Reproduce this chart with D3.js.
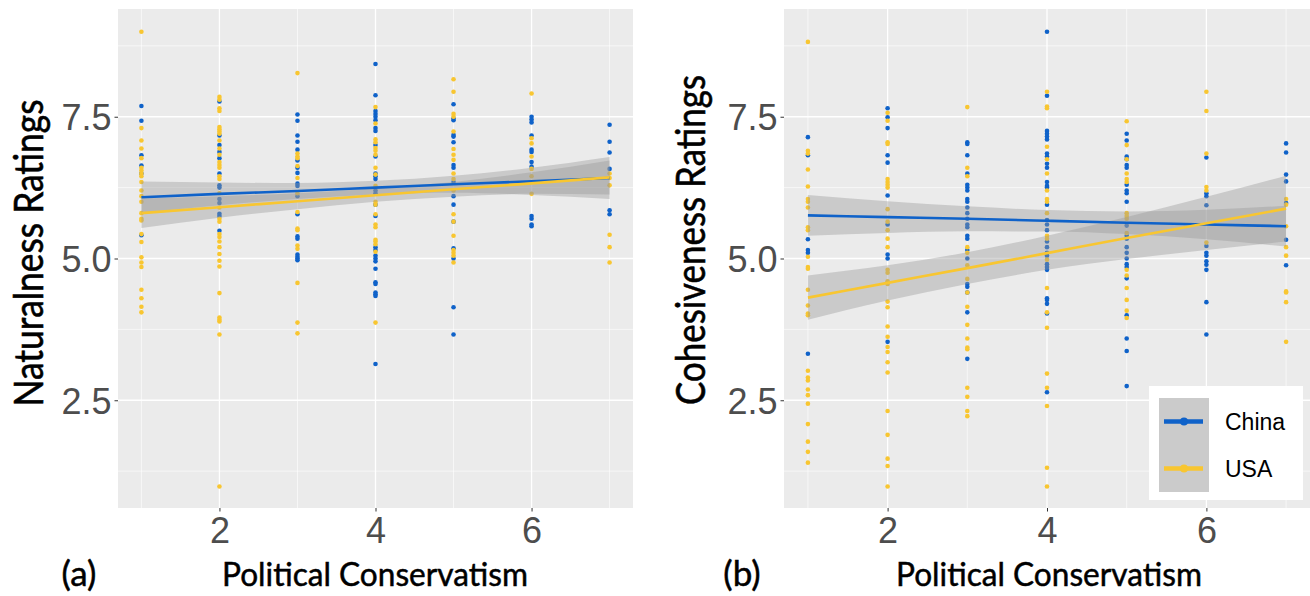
<!DOCTYPE html>
<html><head><meta charset="utf-8">
<script src="https://cdn.jsdelivr.net/npm/d3@7"></script>
<style>body{margin:0;background:#fff}svg{display:block}</style>
</head><body>
<svg id="c" width="1310" height="596"></svg>
<script>
const xCats = [1,2,3,4,5,6,7];
const xTicks = [2,4,6];
const yTicks = [2.5,5.0,7.5];
const seriesNames = ["China","USA"];

// Panel (a): Naturalness ratings, points per political conservatism level 1..7
const natChina = [
  [7.69,7.43,6.82,6.64,6.5,5.41],
  [7.77,7.17,7.0,6.88,6.77,6.5,6.29,6.25,6.05,5.98,5.79,5.75,5.49],
  [7.54,7.43,7.17,7.06,6.92,6.73,6.6,6.51,6.32,6.28,6.1,5.78,5.35,5.39,5.07,5.03,5.0,4.97],
  [8.43,7.88,7.6,7.55,7.5,7.44,7.3,7.25,7.0,6.8,6.5,6.45,6.4,6.2,6.15,5.95,5.75,5.2,5.15,5.05,5.0,4.95,4.82,4.58,4.55,4.4,4.37,4.34,3.14],
  [7.72,7.47,7.44,7.18,7.15,7.05,6.65,6.6,6.35,6.1,5.95,5.65,5.18,5.0,4.14,3.66],
  [7.5,7.45,7.4,7.17,6.92,6.88,6.7,6.62,5.75,5.7,5.6,5.57],
  [7.36,7.06,6.87,6.58,5.85,5.78]
];
const natUSA = [
  [9.0,7.3,7.08,6.94,6.77,6.6,6.55,6.5,6.45,6.35,6.2,6.1,6.0,5.8,5.7,5.67,5.43,5.29,5.02,4.93,4.85,4.45,4.3,4.15,4.05],
  [7.85,7.8,7.65,7.6,7.32,7.28,7.24,7.2,7.08,6.94,6.83,6.7,6.65,6.6,6.45,6.4,6.15,5.9,5.7,5.65,5.43,5.38,5.3,5.2,5.08,4.96,4.86,4.39,3.96,3.92,3.89,3.66,0.98],
  [8.27,6.85,6.8,6.77,6.63,6.42,6.15,5.82,5.53,5.5,5.23,5.17,4.57,3.87,3.68],
  [7.67,7.38,7.1,7.05,6.95,6.9,6.83,6.6,6.48,6.28,6.0,5.95,5.78,5.6,5.55,5.33,5.3,5.25,5.12,3.87],
  [8.16,7.94,7.55,7.5,7.24,6.93,6.83,6.74,6.5,6.4,6.2,5.78,5.65,5.4,5.15,5.1,5.05,4.93],
  [7.91,7.12,7.03,6.8,6.58,6.45,6.14],
  [6.5,6.42,6.29,5.42,5.2,4.93]
];
// Fitted lines and confidence bands at x = 1..7
const natChinaFit   = [6.08,6.14,6.19,6.25,6.31,6.36,6.42];
const natChinaLower = [5.80,5.94,6.05,6.13,6.16,6.12,6.05];
const natChinaUpper = [6.36,6.34,6.33,6.37,6.46,6.60,6.79];
const natUSAFit   = [5.80,5.905,6.01,6.115,6.22,6.325,6.43];
const natUSALower = [5.54,5.72,5.87,6.00,6.09,6.14,6.13];
const natUSAUpper = [6.06,6.10,6.15,6.24,6.35,6.52,6.73];

// Panel (b): Cohesiveness ratings
const cohChina = [
  [7.14,6.82,5.34,5.15,5.1,3.32],
  [7.65,7.49,7.3,6.82,6.69,6.11,5.6,5.07,5.0,3.53],
  [7.05,7.02,6.82,6.5,6.3,6.25,6.2,6.05,6.0,5.9,5.8,5.7,5.6,5.55,5.4,5.35,5.15,5.0,4.55,4.5,4.4,4.05,3.23],
  [9.0,7.87,7.25,7.2,7.15,7.1,6.85,6.8,6.67,6.6,6.35,6.28,6.25,5.95,5.68,5.6,5.5,5.3,5.2,5.1,5.05,4.9,4.85,4.8,4.3,4.27,4.2,4.03,2.64],
  [7.2,7.08,6.8,6.75,6.65,6.6,6.3,6.2,6.15,6.0,5.58,5.4,5.35,5.2,5.1,5.0,4.9,4.85,4.65,4.0,3.59,3.37,2.75],
  [6.78,6.15,6.1,5.94,5.22,5.1,5.05,4.95,4.89,4.8,4.23,3.66],
  [7.03,6.87,6.48,6.36,5.98,5.33,4.88]
];
const cohUSA = [
  [8.82,6.9,6.85,6.57,6.27,6.05,6.0,5.9,5.55,5.5,5.03,4.85,4.82,4.45,4.17,4.03,4.0,3.02,2.9,2.85,2.69,2.59,2.44,2.08,1.77,1.59,1.4],
  [7.57,7.43,7.05,7.02,6.4,6.35,6.3,6.25,5.87,5.65,5.5,5.35,5.2,4.8,4.75,4.6,4.55,4.24,4.14,3.8,3.62,3.44,3.35,3.17,2.99,2.31,1.89,1.47,1.34,0.98],
  [7.67,6.6,6.45,5.2,5.1,4.88,4.64,4.4,4.15,3.83,3.59,3.43,3.4,2.72,2.56,2.31,2.22],
  [7.94,7.68,7.65,6.97,6.75,6.5,6.2,6.05,6.0,5.8,5.4,5.35,4.98,4.48,4.05,3.78,2.97,2.72,2.4,1.31,0.98],
  [7.42,7.0,6.75,6.5,6.4,6.35,5.8,5.75,5.7,5.45,4.8,4.7,4.48,4.27,4.08,3.95],
  [7.94,7.6,6.85,6.26,6.2,5.28],
  [6.05,5.95,5.57,5.2,5.05,4.42,4.4,4.23,3.53]
];
const cohChinaFit   = [5.76,5.73,5.70,5.665,5.63,5.60,5.57];
const cohChinaLower = [5.40,5.45,5.48,5.475,5.43,5.34,5.21];
const cohChinaUpper = [6.12,6.01,5.92,5.855,5.83,5.86,5.93];
const cohUSAFit   = [4.31,4.57,4.83,5.095,5.36,5.62,5.88];
const cohUSALower = [3.92,4.26,4.55,4.80,4.99,5.15,5.30];
const cohUSAUpper = [4.70,4.88,5.11,5.40,5.73,6.09,6.46];

const colors = {China:"#0f62c9", USA:"#f8c631"};
const svg = d3.select("#c");
svg.append("rect").attr("width",1310).attr("height",596).attr("fill","#fff");

function panel(opt){
  const x = d3.scaleLinear().domain([0.7,7.3]).range([opt.x0,opt.x1]);
  const y = d3.scaleLinear().domain([0.6,9.4]).range([508,9]);
  const g = svg.append("g");
  g.append("rect").attr("x",opt.x0).attr("y",9).attr("width",opt.x1-opt.x0).attr("height",499).attr("fill","#ebebeb");
  // minor grid
  [1.25,3.75,6.25,8.75].forEach(v=>g.append("line").attr("x1",opt.x0).attr("x2",opt.x1).attr("y1",y(v)).attr("y2",y(v)).attr("stroke","#fff").attr("stroke-width",0.6));
  [1,3,5,7].forEach(v=>g.append("line").attr("y1",9).attr("y2",508).attr("x1",x(v)).attr("x2",x(v)).attr("stroke","#fff").attr("stroke-width",0.6));
  // major grid
  yTicks.forEach(v=>g.append("line").attr("x1",opt.x0).attr("x2",opt.x1).attr("y1",y(v)).attr("y2",y(v)).attr("stroke","#fff").attr("stroke-width",1.3));
  xTicks.forEach(v=>g.append("line").attr("y1",9).attr("y2",508).attr("x1",x(v)).attr("x2",x(v)).attr("stroke","#fff").attr("stroke-width",1.3));
  // points
  const pts = [];
  opt.series.forEach(s=>{
    s.points.forEach((arr,i)=>arr.forEach(v=>pts.push({x:xCats[i],y:v,c:s.name})));
  });
  g.selectAll("circle.pt").data(pts).join("circle").attr("class","pt")
    .attr("cx",d=>x(d.x)).attr("cy",d=>y(d.y)).attr("r",2.3).attr("fill",d=>colors[d.c]);
  // bands
  opt.series.forEach(s=>{
    const area = d3.area().x((d,i)=>x(xCats[i])).y0((d,i)=>y(s.lower[i])).y1((d,i)=>y(s.upper[i])).curve(d3.curveMonotoneX);
    g.append("path").attr("d",area(xCats)).attr("fill","#999").attr("fill-opacity",0.4);
  });
  opt.series.forEach(s=>{
    const line = d3.line().x((d,i)=>x(xCats[i])).y(d=>y(d)).curve(d3.curveMonotoneX);
    g.append("path").attr("d",line(s.fit)).attr("fill","none").attr("stroke",colors[s.name]).attr("stroke-width",2.6);
  });
  // axes
  const ya = d3.axisLeft(y).tickValues(yTicks).tickFormat(d3.format(".1f")).tickSize(3.5).tickPadding(3);
  const yg = g.append("g").attr("transform",`translate(${opt.x0},0)`).call(ya);
  const xa = d3.axisBottom(x).tickValues(xTicks).tickFormat(d3.format("d")).tickSize(3.5).tickPadding(5);
  const xg = g.append("g").attr("transform","translate(0,508)").call(xa);
  [yg,xg].forEach(a=>{
    a.select(".domain").remove();
    a.selectAll(".tick line").attr("stroke","#333").attr("stroke-width",1);
    a.selectAll(".tick text").attr("fill","#4d4d4d").attr("font-family","Liberation Sans, Arial, sans-serif").attr("font-size",36);
  });
  yg.selectAll(".tick text").attr("dy","0.36em");
  xg.selectAll(".tick text").attr("dy","0.74em");
  // titles
  g.append("text").attr("transform",`translate(${opt.ytx},${opt.yty}) rotate(-90)`)
    .attr("text-anchor","middle").attr("font-family","Lato, 'Open Sans', sans-serif").attr("font-size",41)
    .attr("textLength",opt.ytLen).attr("lengthAdjust","spacingAndGlyphs").attr("fill","#000")
    .attr("stroke","#000").attr("stroke-width",0.6).text(opt.yTitle);
  g.append("text").attr("x",opt.xtx).attr("y",586).attr("text-anchor","middle")
    .attr("font-family","Lato, 'Open Sans', sans-serif").attr("font-size",33)
    .attr("textLength",306).attr("lengthAdjust","spacingAndGlyphs").attr("fill","#000")
    .attr("stroke","#000").attr("stroke-width",0.5).text("Political Conservatism");
  g.append("text").attr("x",opt.lx).attr("y",586).attr("text-anchor","middle")
    .attr("font-family","Lato, 'Open Sans', sans-serif").attr("font-size",35).attr("fill","#000")
    .attr("stroke","#000").attr("stroke-width",0.5).text(opt.label);
}

panel({x0:118,x1:633,yTitle:"Naturalness Ratings",ytx:43,yty:253,ytLen:307,xtx:375,lx:79,label:"(a)",
  series:[{name:"China",points:natChina,fit:natChinaFit,lower:natChinaLower,upper:natChinaUpper},
          {name:"USA",points:natUSA,fit:natUSAFit,lower:natUSALower,upper:natUSAUpper}]});
panel({x0:784,x1:1310,yTitle:"Cohesiveness Ratings",ytx:705,yty:240,ytLen:330,xtx:1049,lx:742,label:"(b)",
  series:[{name:"China",points:cohChina,fit:cohChinaFit,lower:cohChinaLower,upper:cohChinaUpper},
          {name:"USA",points:cohUSA,fit:cohUSAFit,lower:cohUSALower,upper:cohUSAUpper}]});

// legend
const lg = svg.append("g");
lg.append("rect").attr("x",1149).attr("y",386).attr("width",154).attr("height",114).attr("fill","#fff");
seriesNames.forEach((n,i)=>{
  const ky = 398 + i*47;
  lg.append("rect").attr("x",1159).attr("y",ky).attr("width",50).attr("height",47).attr("fill","#cbcbcb");
  lg.append("line").attr("x1",1164).attr("x2",1203).attr("y1",ky+23.5).attr("y2",ky+23.5).attr("stroke",colors[n]).attr("stroke-width",4.5);
  lg.append("circle").attr("cx",1184).attr("cy",ky+23.5).attr("r",4).attr("fill",colors[n]);
  lg.append("text").attr("x",1225).attr("y",ky+32).attr("font-family","Liberation Sans, Arial, sans-serif").attr("font-size",23).attr("fill","#000").text(n);
});
</script>
</body></html>
